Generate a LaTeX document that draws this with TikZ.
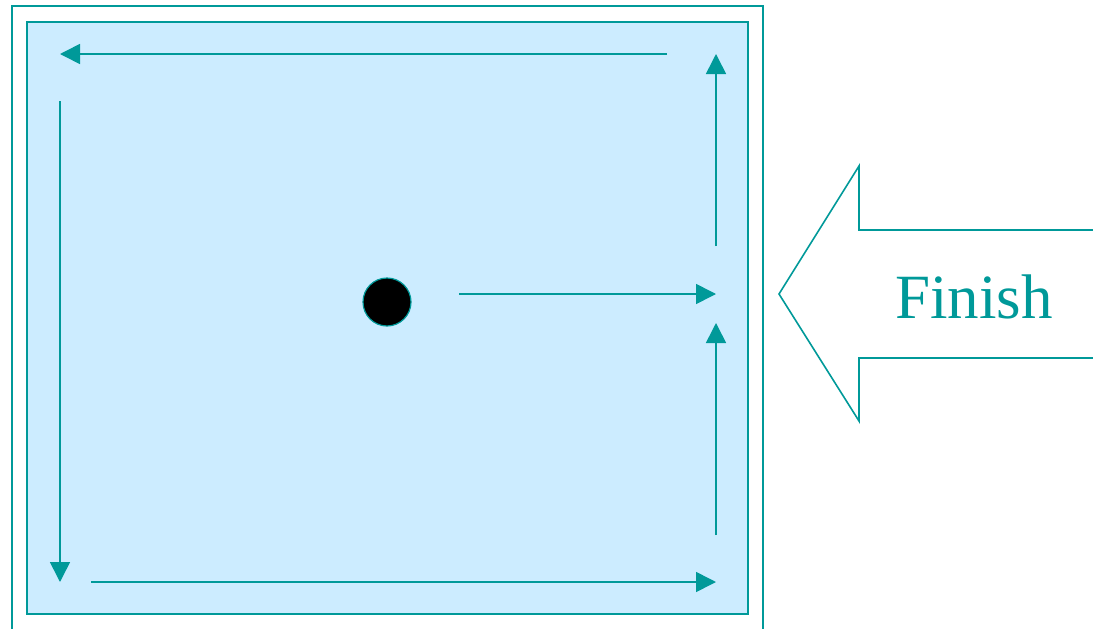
\documentclass[tikz,border=0pt]{standalone}
\usepackage{fontspec}
\setmainfont{Liberation Serif}
\usetikzlibrary{arrows.meta}
\definecolor{teal1}{HTML}{009999}
\definecolor{pale}{HTML}{CCECFF}
\begin{document}
\begin{tikzpicture}[x=1pt,y=-1pt,
  frame/.style={draw=teal1,line width=1.6pt},
  flow/.style={draw=teal1,line width=1.6pt,-{Triangle[length=20pt,width=20pt]}}]
\useasboundingbox (0,0) rectangle (1093,629);
\draw[frame] (12,6) rectangle (763,640);
\draw[frame,fill=pale] (27,22) rectangle (748,614);
% coordinates
\coordinate (t1) at (667,54);
\coordinate (t2) at (60,54);
\coordinate (l1) at (60,101);
\coordinate (l2) at (60,582);
\coordinate (b1) at (91,582);
\coordinate (b2) at (716,582);
\coordinate (r1) at (716,535);
\coordinate (r2) at (716,323);
\coordinate (u1) at (716,246);
\coordinate (u2) at (716,54);
\coordinate (m1) at (459,294);
\coordinate (m2) at (716,294);
\draw[flow] (t1) -- (t2);
\draw[flow] (l1) -- (l2);
\draw[flow] (b1) -- (b2);
\draw[flow] (r1) -- (r2);
\draw[flow] (u1) -- (u2);
\draw[flow] (m1) -- (m2);
\node[circle,draw=teal1,line width=1.2pt,fill=black,minimum size=48pt,inner sep=0pt] (dot) at (387,302) {};
\draw[draw=teal1,line width=1.6pt,line join=miter] (1100,230) -- (859,230) -- (859,166) -- (779,294) -- (859,421) -- (859,358) -- (1100,358);
\node[text=teal1,font=\fontsize{63}{70}\selectfont,inner sep=0pt] (finish) at (974,297) {Finish};
\end{tikzpicture}
\end{document}
